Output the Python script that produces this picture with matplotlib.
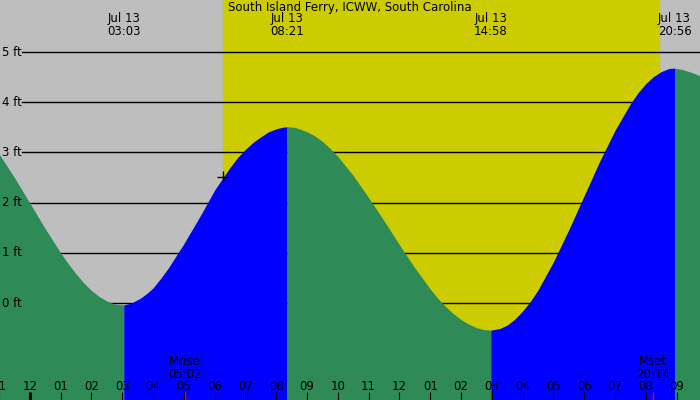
import numpy as np
import matplotlib.pyplot as plt

plt.rcParams.update({
    'font.family': 'DejaVu Sans',
    'font.size': 8.5,
})

# tide height readings (ft), hours after Jul 13 00:00
hours = np.array([-1.0, -0.5, 0.0, 0.5, 1.0, 1.25, 1.5, 1.75, 2.0, 2.25, 2.5, 2.75, 3.05,
                  3.3, 3.6, 3.8, 4.0, 4.25, 4.5, 5.0, 5.5, 6.0, 6.5, 6.75, 7.0, 7.25, 7.5, 7.75, 8.0, 8.2, 8.35,
                  8.6, 8.8, 9.0, 9.25, 9.5, 9.75, 10.0, 10.5, 11.0, 11.5, 12.0, 12.5, 13.0, 13.25, 13.5,
                  13.75, 14.0, 14.25, 14.5, 14.75, 14.967,
                  15.25, 15.5, 15.75, 16.0, 16.25, 16.5, 17.0, 17.5, 18.0, 18.5, 19.0, 19.5, 19.75, 20.0,
                  20.25, 20.5, 20.75, 20.933,
                  21.2, 21.5, 22.0])
heights = np.array([2.97, 2.50, 1.99, 1.48, 1.00, 0.78, 0.58, 0.40, 0.25, 0.13, 0.04, -0.02, -0.04,
                    0.00, 0.10, 0.19, 0.30, 0.49, 0.70, 1.18, 1.70, 2.25, 2.70, 2.90, 3.06, 3.20, 3.31, 3.41, 3.47, 3.50, 3.51,
                    3.50, 3.46, 3.41, 3.33, 3.22, 3.08, 2.92, 2.54, 2.10, 1.64, 1.16, 0.70, 0.28, 0.09, -0.07,
                    -0.21, -0.33, -0.42, -0.49, -0.53, -0.54,
                    -0.51, -0.44, -0.32, -0.16, 0.03, 0.26, 0.82, 1.46, 2.14, 2.82, 3.44, 3.97, 4.19, 4.37,
                    4.51, 4.61, 4.67, 4.68,
                    4.65, 4.59, 4.47])

extreme_hours = [3.05, 8.35, 14.967, 20.933]
extreme_times = ['03:03', '08:21', '14:58', '20:56']
sunrise, sunset = 6.27, 20.43
sunrise_height = 2.52
moon_hours = [5.033, 20.233]
moon_labels = ['Mrise\n05:02', 'Mset\n20:14']
hour_ticks = list(range(-1, 22))
hour_labels = ['11', '12', '01', '02', '03', '04', '05', '06', '07', '08', '09', '10', '11',
               '12', '01', '02', '03', '04', '05', '06', '07', '08', '09']
ft_levels = [0, 1, 2, 3, 4, 5]

W, H = 700, 400
fig = plt.figure(figsize=(7, 4), dpi=100)
ax = fig.add_axes([0, 0, 1, 1])
ax.set_xlim(-0.968, 21.76)
ax.set_ylim(-1.932, 6.036)
ax.axis('off')
ax.add_patch(plt.Rectangle((0, 0), 1, 1, transform=ax.transAxes, color='#bebebe', zorder=0))
ax.axvspan(sunrise, sunset, color='#cccc00', zorder=1)

for lv in ft_levels:
    ax.axhline(lv, xmin=22 / W, xmax=1, color='black', lw=1, zorder=2)
    ax.text(2 / W, lv, f'{lv} ft', transform=ax.get_yaxis_transform(),
            ha='left', va='center', zorder=5)

# water, split at each high / low
cuts = [hours[0]] + extreme_hours + [hours[-1]]
for a, b in zip(cuts[:-1], cuts[1:]):
    m = (hours >= a) & (hours <= b)
    h = heights[m]
    col = 'blue' if h[-1] > h[0] else '#2e8b57'
    ax.fill_between(hours[m], h, -3, color=col, lw=0, zorder=3)

ax.plot(sunrise, sunrise_height, marker='+', color='black', ms=8, mew=1, zorder=6)

xt = ax.get_xaxis_transform()
def fy(py):
    return 1 - py / H

ax.text(0.5, fy(7), 'South Island Ferry, ICWW, South Carolina', transform=ax.transAxes,
        ha='center', va='center', zorder=6)
for hx, lab in zip(extreme_hours, extreme_times):
    ax.text(hx, fy(25), 'Jul 13\n' + lab, transform=xt, ha='center', va='center',
            linespacing=1.0, zorder=6)

for hx, lab in zip(hour_ticks, hour_labels):
    ax.text(hx, fy(386), lab, transform=xt, ha='center', va='center', zorder=6)
    ax.plot([hx, hx], [fy(392), 0], transform=xt, color='black',
            lw=2.2 if hx == 0 else 0.8, solid_capstyle='butt', zorder=6)

for hx, lab in zip(moon_hours, moon_labels):
    ax.text(hx, fy(368), lab, transform=xt, ha='center', va='center',
            linespacing=1.0, zorder=6)
    ax.plot([hx, hx], [fy(392), 0], transform=xt, color='red', lw=1,
            solid_capstyle='butt', zorder=7)

fig.savefig('out.png', dpi=100)
